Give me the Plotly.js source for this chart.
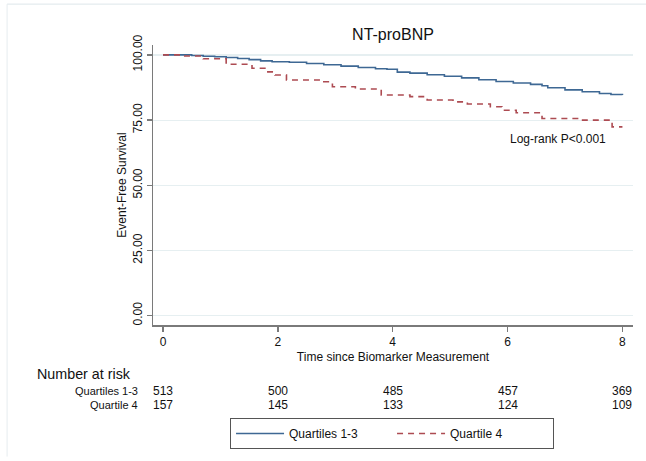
<!DOCTYPE html>
<html>
<head>
<meta charset="utf-8">
<script src="https://cdn.plot.ly/plotly-3.0.1.min.js"></script>
<style>html,body{margin:0;padding:0;background:#fff}#chart{width:646px;height:461px}</style>
</head>
<body>
<div id="chart"></div>
<script>
// ---- data ----
const seriesNames = ["Quartiles 1-3", "Quartile 4"];
const q13Time = [0, 0.3, 0.5, 0.7, 0.9, 1.1, 1.3, 1.5, 1.7, 1.9, 2.2, 2.5, 2.8, 3.1, 3.4, 3.7, 3.9, 4.08, 4.3, 4.6, 4.9, 5.2, 5.5, 5.8, 6.1, 6.4, 6.6, 6.7, 7.0, 7.3, 7.6, 7.8, 8.0];
const q13Surv = [100, 100, 99.8, 99.5, 99.3, 99.0, 98.6, 98.2, 97.7, 97.4, 97.2, 96.7, 96.2, 95.7, 95.2, 94.7, 94.5, 93.4, 93.0, 92.4, 91.8, 91.2, 90.5, 89.8, 89.2, 88.7, 88.2, 87.4, 86.6, 85.9, 85.2, 84.8, 84.6];
const q4Time = [0, 0.35, 0.7, 1.1, 1.55, 1.8, 1.95, 2.15, 2.8, 2.95, 3.35, 3.8, 4.3, 4.6, 5.05, 5.3, 5.7, 5.9, 6.15, 6.6, 7.28, 7.82, 8.0];
const q4Surv = [100, 99.6, 98.5, 96.4, 94.9, 93.5, 92.3, 90.4, 89.7, 87.8, 86.9, 84.6, 84.0, 82.7, 82.0, 81.2, 80.1, 78.8, 77.8, 75.6, 75.0, 72.4, 72.4];
const xTicks = [0, 2, 4, 6, 8];
const yTicks = [0, 25, 50, 75, 100];
const atRiskTimes = [0, 2, 4, 6, 8];
const atRiskQ13 = [513, 500, 485, 457, 369];
const atRiskQ4 = [157, 145, 133, 124, 109];
const chartTitle = "NT-proBNP";
const xTitle = "Time since Biomarker Measurement";
const yTitle = "Event-Free Survival";
const pText = "Log-rank P<0.001";
const riskHeader = "Number at risk";

const FONT = "Liberation Sans, Arial, Helvetica, sans-serif";
const BLUE = "#3e6894";
const RED = "#ad4b52";

const traces = [
  {x: q13Time, y: q13Surv, name: seriesNames[0], type: "scatter", mode: "lines",
   line: {shape: "hv", color: BLUE, width: 1.6}},
  {x: q4Time, y: q4Surv, name: seriesNames[1], type: "scatter", mode: "lines",
   line: {shape: "hv", color: RED, width: 1.6, dash: "6px,5px"}}
];

const rowY = [-0.236, -0.286];
const ann = [];
ann.push({x: 6.875, y: 67.7, xref: "x", yref: "y", text: pText, showarrow: false,
  font: {family: FONT, size: 12, color: "#111"}});
ann.push({x: -0.246, y: -0.175, xref: "paper", yref: "paper", text: riskHeader, showarrow: false,
  xanchor: "left", yanchor: "middle", font: {family: FONT, size: 14.3, color: "#111"}});
[atRiskQ13, atRiskQ4].forEach((row, r) => {
  ann.push({x: -0.027, y: rowY[r], xref: "paper", yref: "paper", text: seriesNames[r], showarrow: false,
    xanchor: "right", yanchor: "middle", font: {family: FONT, size: 11, color: "#111"}});
  row.forEach((v, i) => {
    ann.push({x: atRiskTimes[i], y: rowY[r], xref: "x", yref: "paper", text: String(v), showarrow: false,
      xanchor: "center", yanchor: "middle", font: {family: FONT, size: 12, color: "#111"}});
  });
});

const layout = {
  width: 646, height: 461,
  margin: {l: 153, r: 13, t: 45, b: 136},
  paper_bgcolor: "#fff", plot_bgcolor: "#fff",
  font: {family: FONT, size: 12, color: "#111"},
  title: {text: chartTitle, font: {family: FONT, size: 16, color: "#111"}, x: 0.5, xref: "paper", xanchor: "center", y: 0.926, yanchor: "middle"},
  xaxis: {
    range: [-0.174, 8.184], tickvals: xTicks, ticktext: xTicks.map(String),
    showline: true, linecolor: "#7a7a7a", linewidth: 1.5,
    ticks: "outside", ticklen: 5, tickwidth: 1.5, tickcolor: "#7a7a7a",
    showgrid: false, zeroline: false,
    tickfont: {family: FONT, size: 12, color: "#111"},
    title: {text: xTitle, font: {family: FONT, size: 12, color: "#111"}, standoff: 4}
  },
  yaxis: {
    range: [-3.58, 103.8], tickvals: yTicks, ticktext: yTicks.map(v => v.toFixed(2)),
    tickangle: -90,
    showline: true, linecolor: "#7a7a7a", linewidth: 1.5,
    ticks: "outside", ticklen: 5, tickwidth: 1.5, tickcolor: "#7a7a7a",
    showgrid: true, gridcolor: "#e6eff1", gridwidth: 1.2, zeroline: false,
    tickfont: {family: FONT, size: 12, color: "#111"},
    title: {text: yTitle, font: {family: FONT, size: 12, color: "#111"}, standoff: 1}
  },
  showlegend: true,
  legend: {orientation: "h", x: 0.498, xanchor: "center", y: -0.332, yanchor: "top",
    bordercolor: "#555", borderwidth: 1, bgcolor: "#fff",
    font: {family: FONT, size: 12, color: "#111"}, entrywidth: 98, itemwidth: 48},
  annotations: ann,
  shapes: [
    {type: "line", xref: "paper", yref: "paper", x0: -0.304, x1: 1.03, y0: 1.146, y1: 1.146, line: {color: "#dde6ea", width: 1}},
    {type: "line", xref: "paper", yref: "paper", x0: -0.304, x1: -0.304, y0: 1.146, y1: -0.47, line: {color: "#e6ecef", width: 1}}
  ]
};

Plotly.newPlot("chart", traces, layout, {displayModeBar: false, staticPlot: true});
</script>
</body>
</html>
